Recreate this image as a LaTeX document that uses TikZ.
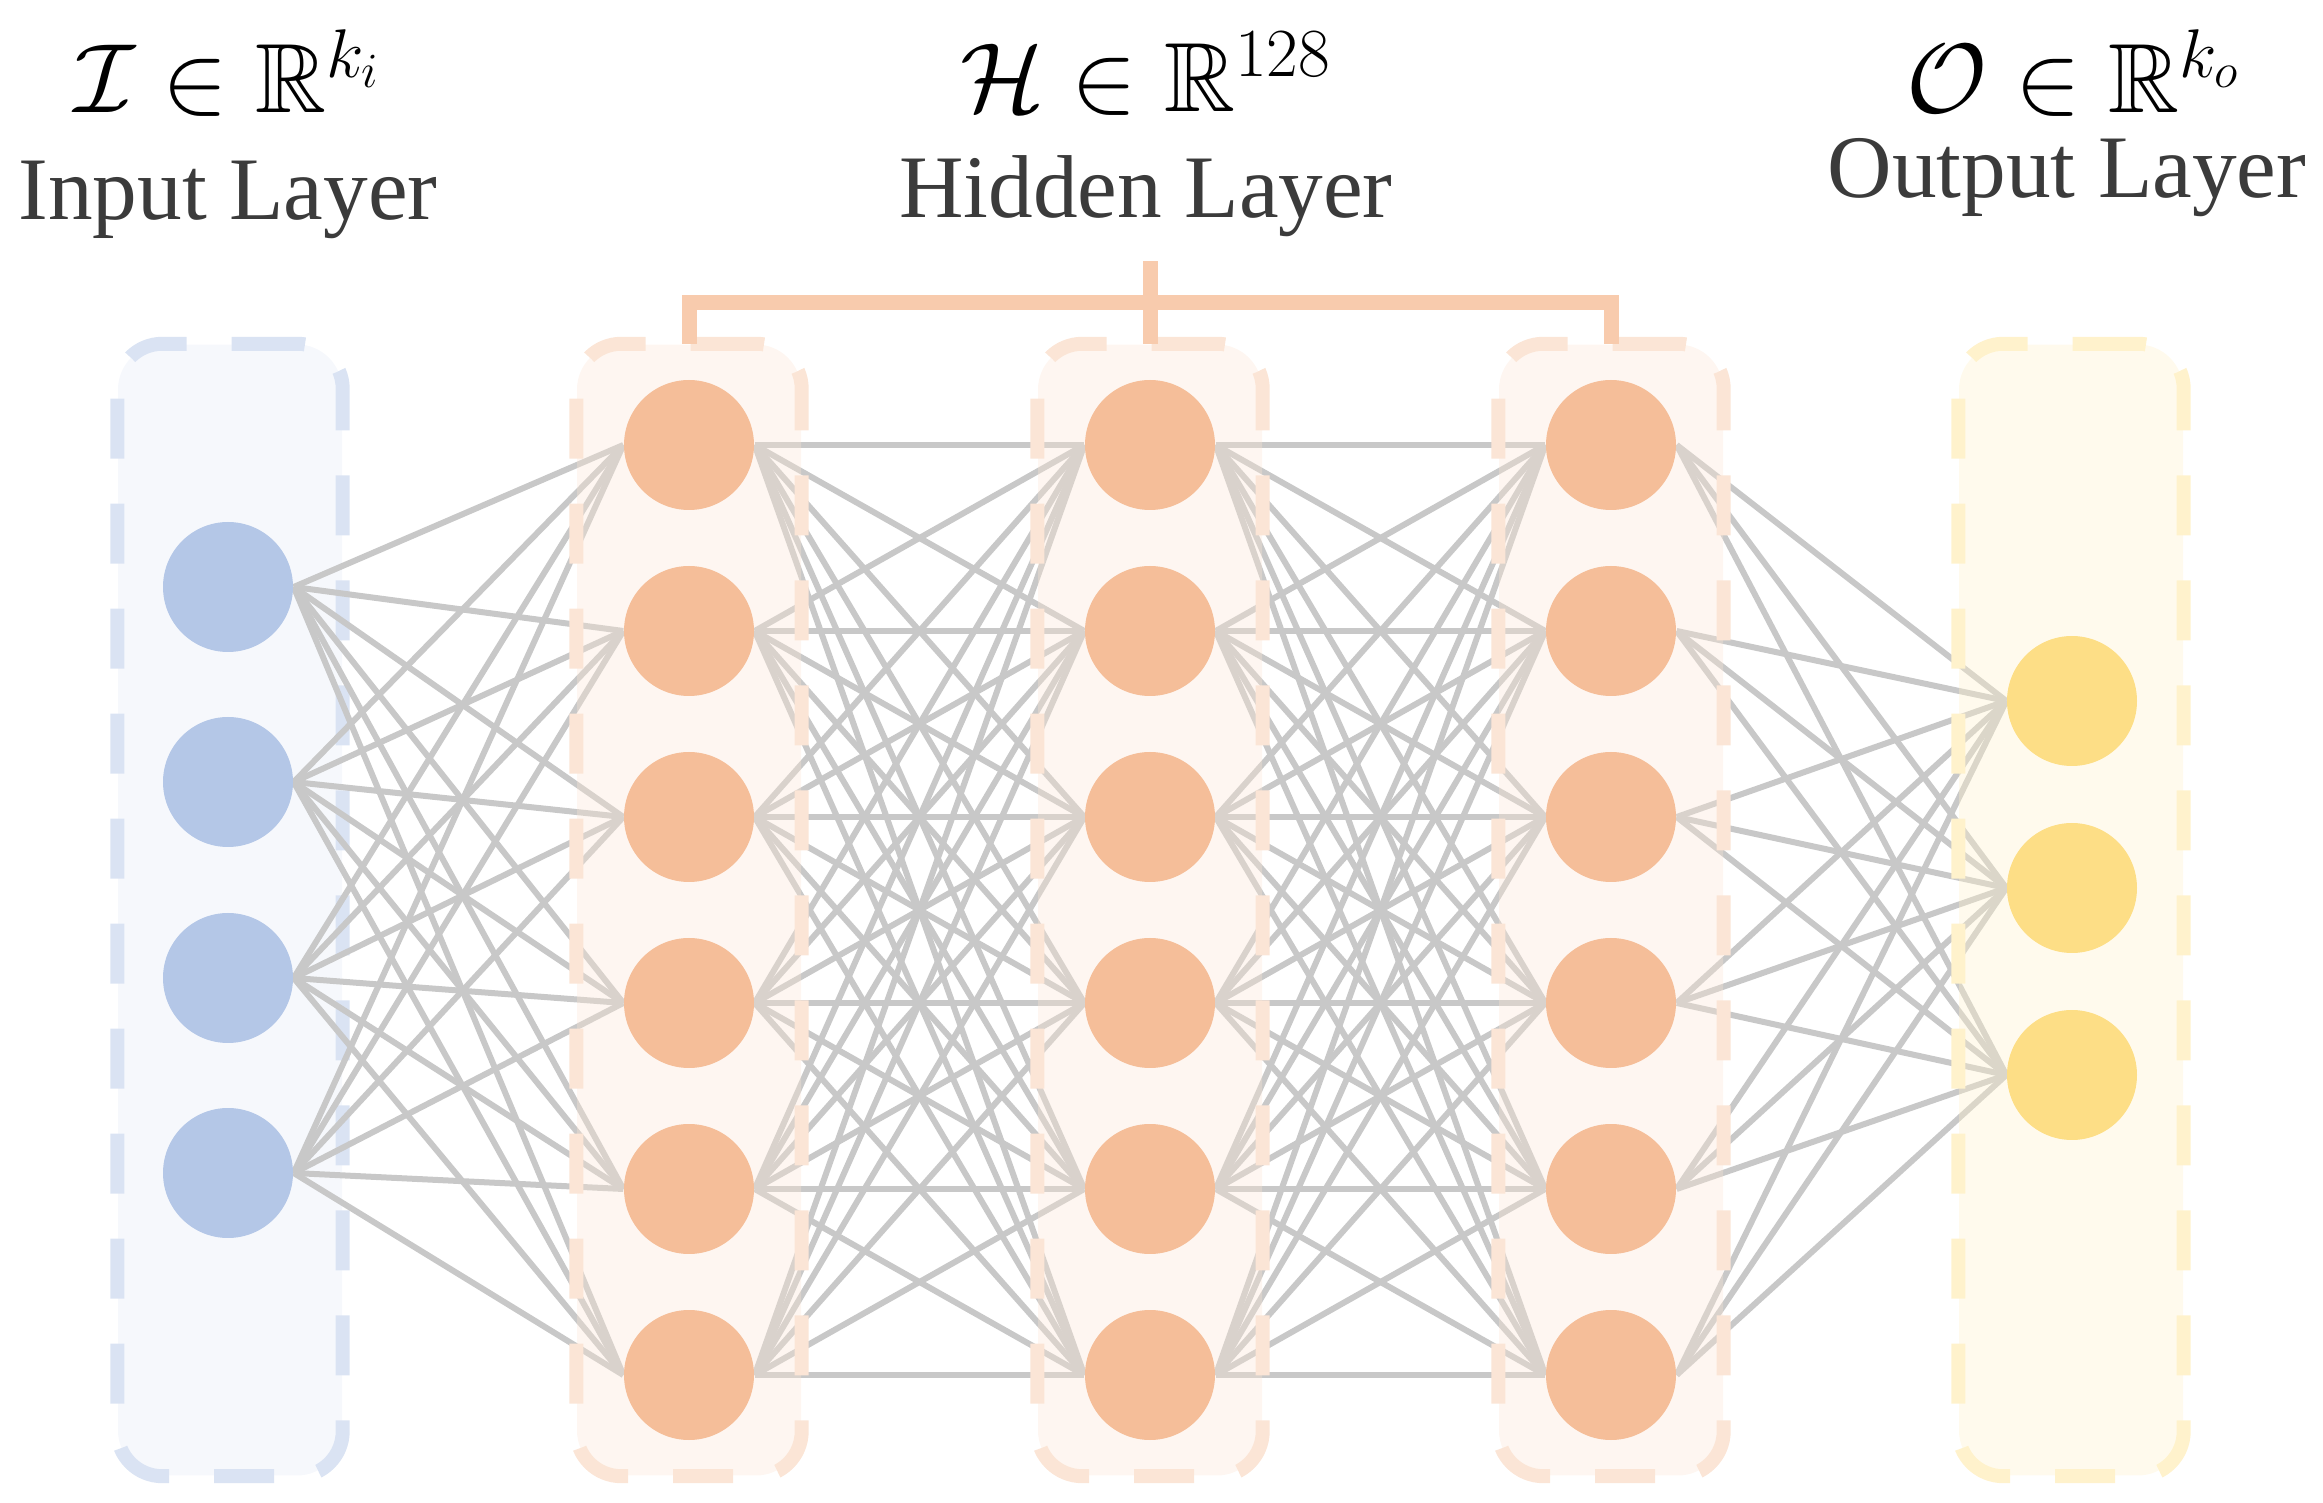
\documentclass[tikz,border=0pt]{standalone}
\usepackage{fix-cm}
\usepackage{amssymb}
\usepackage{amsmath}
\usepackage[no-math]{fontspec}
\setmainfont{Liberation Serif}
\usepackage{tikz}

\definecolor{inFill}{HTML}{B4C7E7}
\definecolor{inRim}{HTML}{DAE3F3}
\definecolor{hidFill}{HTML}{F5BE99}
\definecolor{hidRim}{HTML}{FBE5D6}
\definecolor{outFill}{HTML}{FDDE86}
\definecolor{outRim}{HTML}{FFF2CC}
\definecolor{braceCol}{HTML}{F8CBAD}
\definecolor{wire}{HTML}{C8C8C8}
\definecolor{labgray}{HTML}{3B3B3B}

\pgfdeclarelayer{back}
\pgfdeclarelayer{wires}
\pgfdeclarelayer{panes}
\pgfsetlayers{back,wires,panes,main}

\begin{document}
\begin{tikzpicture}[x=0.1mm, y=-0.1mm,
    neuron/.style={circle, minimum size=13mm, inner sep=0pt},
    pane/.style={rectangle, rounded corners=4.5mm, minimum width=22.4mm, minimum height=113.1mm, inner sep=0pt, fill opacity=0.35},
    rim/.style={line width=1.4mm, rounded corners=4.5mm, dash pattern=on 6mm off 4.5mm, dash phase=3mm},
    conn/.style={draw=wire, line width=0.6mm},
    laymath/.style={anchor=base, font=\fontsize{28}{30}\selectfont},
    laytext/.style={anchor=base, text=labgray, font=\fontsize{25.4}{28}\selectfont}]
    \useasboundingbox (0,0) rectangle (2323,1503);

    % neurons
    \foreach \i/\y in {1/587, 2/782, 3/978, 4/1173}
        \node[neuron, fill=inFill] (in\i) at (228,\y) {};
    \foreach \c/\x in {a/689, b/1150, c/1611} {
        \foreach \j in {1,...,6}
            \node[neuron, fill=hidFill] (h\c\j) at (\x,{445+186*(\j-1)}) {};
    }
    \foreach \k/\y in {1/701, 2/888, 3/1075}
        \node[neuron, fill=outFill] (out\k) at (2072,\y) {};

    % layer boxes
    \begin{pgfonlayer}{back}
        \node[pane, fill=inRim, fill opacity=0.25] (bIn) at (230,910) {};
        \draw[rim, draw=inRim] (bIn.north) -| (bIn.south east) -| (bIn.north west) -- cycle;
    \end{pgfonlayer}
    \begin{pgfonlayer}{panes}
        \foreach \c/\x in {a/689, b/1150, c/1611} {
            \node[pane, fill=hidRim] (bH\c) at (\x,910) {};
            \draw[rim, draw=hidRim] (bH\c.north) -| (bH\c.south east) -| (bH\c.north west) -- cycle;
        }
        \node[pane, fill=outRim] (bOut) at (2071,910) {};
        \draw[rim, draw=outRim] (bOut.north) -| (bOut.south east) -| (bOut.north west) -- cycle;
    \end{pgfonlayer}

    % connections
    \begin{pgfonlayer}{wires}
        \foreach \i in {1,...,4}
            \foreach \j in {1,...,6}
                \draw[conn] (in\i.east) -- (ha\j.west);
        \foreach \j in {1,...,6} {
            \foreach \k in {1,...,6} {
                \draw[conn] (ha\j.east) -- (hb\k.west);
                \draw[conn] (hb\j.east) -- (hc\k.west);
            }
        }
        \foreach \j in {1,...,6}
            \foreach \k in {1,2,3}
                \draw[conn] (hc\j.east) -- (out\k.west);
    \end{pgfonlayer}

    % bracket over hidden layers
    \draw[draw=braceCol, line width=1.5mm] (bHa.north) -- ++(0,-41) -| (bHc.north);
    \draw[draw=braceCol, line width=1.5mm] (bHb.north) -- ++(0,-83);

    % labels
    \node[laymath] (mIn) at (228,113) {$\mathcal{I}\in\mathbb{R}^{k_i}$};
    \node[laytext] (tIn) at (228,220) {Input Layer};
    \node[laymath] (mHid) at (1146,112) {$\mathcal{H}\in\mathbb{R}^{128}$};
    \node[laytext] (tHid) at (1146,218) {Hidden Layer};
    \node[laymath] (mOut) at (2074,113) {$\mathcal{O}\in\mathbb{R}^{k_o}$};
    \node[laytext] (tOut) at (2067,198) {Output Layer};
\end{tikzpicture}
\end{document}
